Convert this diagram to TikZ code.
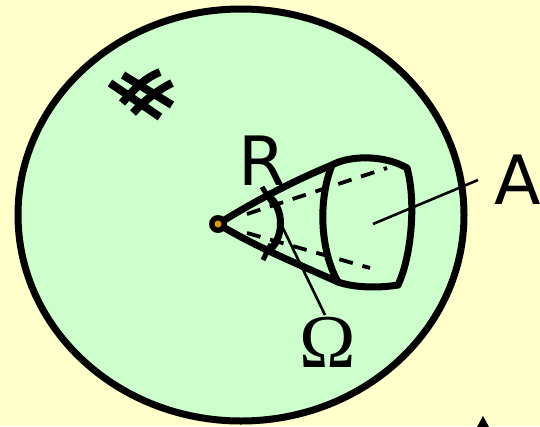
\documentclass[tikz,border=0pt]{standalone}
\usepackage{fontspec}
\newfontfamily\lblfont{DejaVu Sans}
\newfontfamily\omfont{Liberation Serif}
\definecolor{bgyellow}{HTML}{FFFFCC}
\definecolor{ballgreen}{HTML}{CCFFCC}
\definecolor{dotorange}{HTML}{D99A00}
\begin{document}
\begin{tikzpicture}[x=1pt,y=-1pt,
  thickline/.style={line width=7pt,line cap=round,line join=round},
  dashline/.style={line width=3.8pt,dash pattern=on 14pt off 10pt},
  thinline/.style={line width=2.6pt},
  lbl/.style={inner sep=0pt,font=\lblfont\fontsize{68}{68}\selectfont}]
\fill[bgyellow] (0,0) rectangle (540,426);
\useasboundingbox (0,0) rectangle (540,426);
% ball
\draw[line width=7pt,fill=ballgreen] (241,215) ellipse [x radius=223, y radius=206];
% hash mark
\draw[line width=8pt] (123,75) -- (172,105);
\draw[line width=8pt] (110,83) -- (160,117);
\draw[line width=8pt] (122,103) .. controls (135,88) and (145,78) .. (160,72);
\draw[line width=8pt] (133,113) .. controls (145,100) and (158,90) .. (172,83);
% coordinates
\coordinate (O) at (218,224);
\coordinate (UL) at (332,165);
\coordinate (LL) at (338,282);
\coordinate (UR) at (407,168);
\coordinate (LR) at (398,285);
\coordinate (SA) at (267,195);
\coordinate (SB) at (267,252);
% dashed hidden lines
\draw[dashline] (247,214) -- (387,168);
\draw[dashline] (247,233) -- (370,268);
% cone sides
\draw[thickline] (O) .. controls (258,199) and (298,179) .. (UL);
\draw[thickline] (O) .. controls (258,248) and (298,264) .. (LL);
% far cap
\draw[thickline] (UL) .. controls (318,200) and (320,250) .. (LL);
\draw[thickline] (UL) .. controls (350,155) and (385,155) .. (UR);
\draw[thickline] (UR) .. controls (416,200) and (412,255) .. (LR);
\draw[thickline] (LL) .. controls (355,288) and (380,288) .. (LR);
% small solid angle arc
\draw[thickline] (SA) .. controls (285,207) and (285,240) .. (SB);
\draw[line width=5pt] (262,187) -- (272,203);
\draw[line width=5pt] (263,260) -- (271,244);
% centre point
\fill[black] (O) circle[radius=9];
\fill[dotorange] (O) circle[radius=3.5];
% pointer lines
\draw[thinline] (373,224) -- (478,180);
\draw[thinline] (280,222) -- (325,315);
% labels
\node[lbl] (R) at (262,161) {R};
\node[lbl] (A) at (518,180) {A};
\node[inner sep=0pt,font=\omfont\fontsize{76}{76}\selectfont] (Om) at (328,342) {Ω};
% cut-off mark at bottom edge
\fill[black] (483,416) -- (489,427) -- (477,427) -- cycle;
\end{tikzpicture}
\end{document}
